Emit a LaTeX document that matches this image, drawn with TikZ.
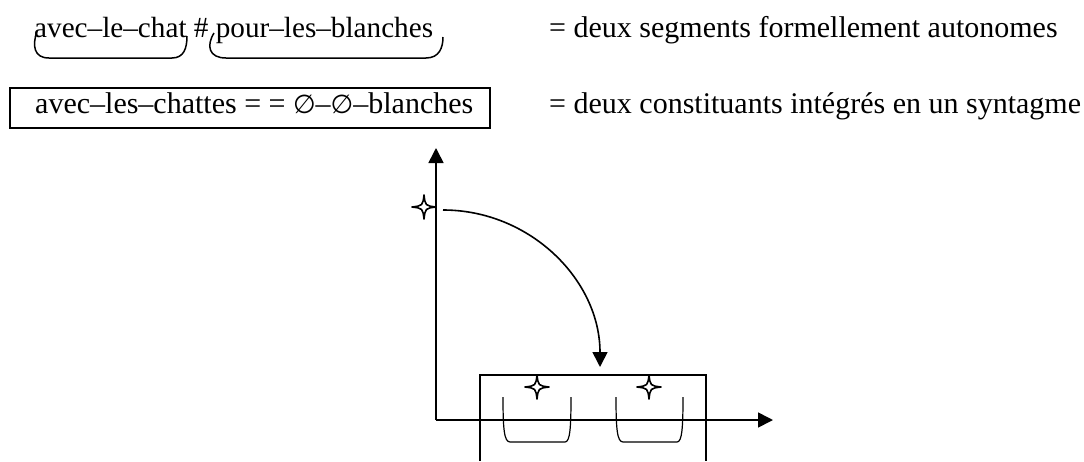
\documentclass[tikz,border=0pt]{standalone}
\usepackage{fontspec}
\setmainfont{Liberation Serif}
\newfontfamily\symfont{DejaVu Sans}
\usetikzlibrary{arrows.meta}
\newcommand{\emptyglyph}{{\symfont\fontsize{26}{30}\selectfont ∅}}
\begin{document}
\begin{tikzpicture}[x=1pt,y=-1pt,
  txt/.style={anchor=base west,inner sep=0pt,font=\fontsize{30}{36}\selectfont},
  axis/.style={line width=1.6pt,-{Triangle[length=15pt,width=15pt]}},
  frame/.style={line width=1.2pt},
  bracket/.style={line width=1.5pt},
  cup/.style={line width=1.2pt},
  conn/.style={line width=1.6pt,-{Triangle[length=15pt,width=15pt]}},
  fstar/.pic={\draw[line width=1.6pt,fill=white,line join=round]
     (0,-12) .. controls (1.3,-1.3) .. (12,0) .. controls (1.3,1.3) .. (0,12)
     .. controls (-1.3,1.3) .. (-12,0) .. controls (-1.3,-1.3) .. cycle;}]
\useasboundingbox (0,0) rectangle (1084,461);
% top line
\node[txt,font=\fontsize{29.2}{36}\selectfont] (t1) at (34,37) {avec–le–chat \# pour–les–blanches};
\node[txt] (r1) at (549,37) {= deux segments formellement autonomes};
\draw[bracket] (37,31) .. controls (32,46) and (34,58) .. (49,58) -- (172,58) .. controls (184,58) and (187,48) .. (187,36);
\draw[bracket] (214,33) .. controls (206,46) and (209,58) .. (226,58) -- (426,58) .. controls (439,58) and (443,48) .. (443,37);
% boxed line
\draw[frame] (10,88) rectangle (490,128);
\node[txt] (t2) at (35,113) {avec–les–chattes = = \emptyglyph–\emptyglyph–blanches};
\node[txt] (r2) at (549,113) {= deux constituants intégrés en un syntagme};
% axes
\coordinate (o) at (436,420);
\coordinate (ytip) at (436,148);
\coordinate (xtip) at (773,420);
\draw[axis] (o) -- (ytip);
\draw[axis] (o) -- (xtip);
% lower box
\coordinate (bl) at (480,461);
\coordinate (br) at (706,461);
\draw[frame] (bl) -- (480,375) -- (706,375) -- (br);
% cups
\draw[cup] (503,397) .. controls (503,428) and (504,442) .. (510,442) -- (565,442) .. controls (570,442) and (571,428) .. (571,397);
\draw[cup] (616,397) .. controls (616,428) and (617,442) .. (623,442) -- (677,442) .. controls (682,442) and (683,428) .. (683,397);
% stars
\coordinate (s0) at (424,207);
\coordinate (s1) at (537,387);
\coordinate (s2) at (649,387);
\pic at (s0) {fstar};
\pic at (s1) {fstar};
\pic at (s2) {fstar};
% connector
\coordinate (cstart) at (443,210);
\coordinate (cend) at (600,367);
\draw[conn] (cstart) .. controls (530,210) and (600,280) .. (cend);
\end{tikzpicture}
\end{document}
